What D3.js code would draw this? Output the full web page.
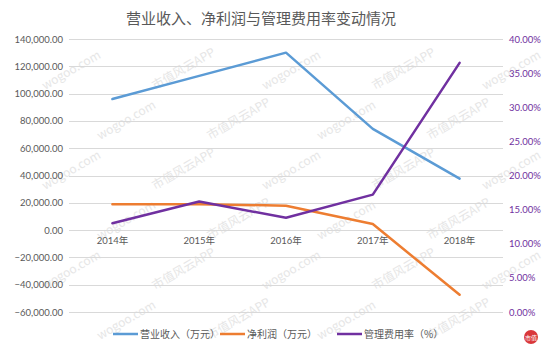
<!DOCTYPE html>
<html>
<head>
<meta charset="utf-8">
<script src="https://cdn.jsdelivr.net/npm/d3@7"></script>
<style>
  html, body { margin: 0; padding: 0; background: #fff; }
  svg { display: block; }
</style>
</head>
<body>
<svg id="chart" width="550" height="349"></svg>
<script>
// Years on the category axis
const years = ["2014年", "2015年", "2016年", "2017年", "2018年"];
// 营业收入 (万元)
const revenue = [96000, 113000, 130000, 74200, 37700];
// 净利润 (万元)
const netProfit = [19000, 19000, 17900, 4400, -47400];
// 管理费用率 (%)
const adminRatio = [13.0, 16.2, 13.8, 17.2, 36.5];

const leftTicks = [140000, 120000, 100000, 80000, 60000, 40000, 20000, 0, -20000, -40000, -60000];
const rightTicks = [0, 5, 10, 15, 20, 25, 30, 35, 40];

const seriesNames = ["营业收入（万元）", "净利润（万元）", "管理费用率（%）"];
const colors = ["#5B9BD5", "#ED7D31", "#7030A0"];

const svg = d3.select("#chart");
const W = 550, H = 349;
const plot = { left: 69, right: 503, top: 39, bottom: 312 };

// Faint diagonal watermark texts, only those that fit wholly on the canvas
const wm = svg.append("g").attr("fill", "#e6e6e6").attr("font-family", "'Noto Sans CJK SC', sans-serif");
const wmRows = [40, 90, 140, 190, 240, 290, 340];
wmRows.forEach((y, ri) => {
  for (let k = 0; k < 6; k++) {
    const x = k * 110 + (ri % 2) * 55 - 10;
    wm.append("text")
      .attr("transform", `translate(${x},${y}) rotate(-30)`)
      .attr("font-size", 12)
      .text((k + ri) % 2 === 0 ? "市值风云APP" : "wogoo.com");
  }
});
wm.selectAll("text").each(function () {
  const b = this.getBoundingClientRect();
  if (b.left < 1 || b.top < 1 || b.right > W - 1 || b.bottom > H - 1) this.remove();
});

const x = d3.scaleBand().domain(years).range([plot.left, plot.right]);
const yL = d3.scaleLinear().domain([-60000, 140000]).range([plot.bottom, plot.top]);
const yR = d3.scaleLinear().domain([0, 40]).range([plot.bottom, plot.top]);

// Horizontal gridlines
svg.append("g")
  .selectAll("line")
  .data(leftTicks)
  .join("line")
  .attr("x1", plot.left).attr("x2", plot.right)
  .attr("y1", d => Math.round(yL(d)) + 0.5).attr("y2", d => Math.round(yL(d)) + 0.5)
  .attr("stroke", "#d9d9d9").attr("stroke-width", 1);

// Left axis
const fmtL = d3.format(",.2f");
const axL = svg.append("g")
  .attr("transform", `translate(${plot.left},0)`)
  .call(d3.axisLeft(yL).tickValues(leftTicks).tickFormat(fmtL).tickSize(0).tickPadding(6));
axL.select(".domain").remove();
axL.selectAll("text").attr("fill", "#595959").attr("font-size", 9.5).attr("font-family", "Lato, 'Open Sans', sans-serif");

// Right axis
const axR = svg.append("g")
  .attr("transform", `translate(${plot.right},0)`)
  .call(d3.axisRight(yR).tickValues(rightTicks).tickFormat(d => d3.format(".2f")(d) + "%").tickSize(0).tickPadding(6));
axR.select(".domain").remove();
axR.selectAll("text").attr("fill", "#7030A0").attr("font-size", 9.5).attr("font-family", "Lato, 'Open Sans', sans-serif");

// Category axis labels sit just under the zero line
const axX = svg.append("g")
  .attr("transform", `translate(0,${yL(0)})`)
  .call(d3.axisBottom(x).tickSize(0).tickPadding(7));
axX.select(".domain").remove();
axX.selectAll("text").attr("fill", "#595959").attr("font-size", 9.5).attr("font-family", "Lato, 'Noto Sans CJK SC', sans-serif");

// Lines
const cx = d => x(d) + x.bandwidth() / 2;
const lineL = d3.line().x((d, i) => cx(years[i])).y(d => yL(d));
const lineR = d3.line().x((d, i) => cx(years[i])).y(d => yR(d));

[[revenue, lineL, colors[0]], [netProfit, lineL, colors[1]], [adminRatio, lineR, colors[2]]]
  .forEach(([data, gen, c]) => {
    svg.append("path")
      .datum(data)
      .attr("d", gen)
      .attr("fill", "none")
      .attr("stroke", c)
      .attr("stroke-width", 2.5)
      .attr("stroke-linejoin", "round")
      .attr("stroke-linecap", "round");
  });

// Title
svg.append("text")
  .attr("x", 261).attr("y", 24)
  .attr("text-anchor", "middle")
  .attr("fill", "#595959")
  .attr("font-size", 15)
  .attr("font-family", "'Noto Sans CJK SC', sans-serif")
  .text("营业收入、净利润与管理费用率变动情况");

// Legend
const legendX = [113, 220, 337];
const lg = svg.append("g").attr("transform", "translate(0,334)");
seriesNames.forEach((name, i) => {
  lg.append("line")
    .attr("x1", legendX[i]).attr("x2", legendX[i] + 25)
    .attr("y1", 0).attr("y2", 0)
    .attr("stroke", colors[i]).attr("stroke-width", 2.5);
  lg.append("text")
    .attr("x", legendX[i] + 27).attr("y", 4)
    .attr("fill", "#595959")
    .attr("font-size", 10)
    .attr("font-family", "'Noto Sans CJK SC', sans-serif")
    .text(name);
});

// Small round badge in the corner
const badge = svg.append("g").attr("transform", "translate(531,337)");
badge.append("circle").attr("r", 7).attr("fill", "#d9373a");
badge.append("text").attr("text-anchor", "middle").attr("y", 3)
  .attr("fill", "#fff").attr("font-size", 6)
  .attr("font-family", "'Noto Sans CJK SC', sans-serif").text("市值");
</script>
</body>
</html>
